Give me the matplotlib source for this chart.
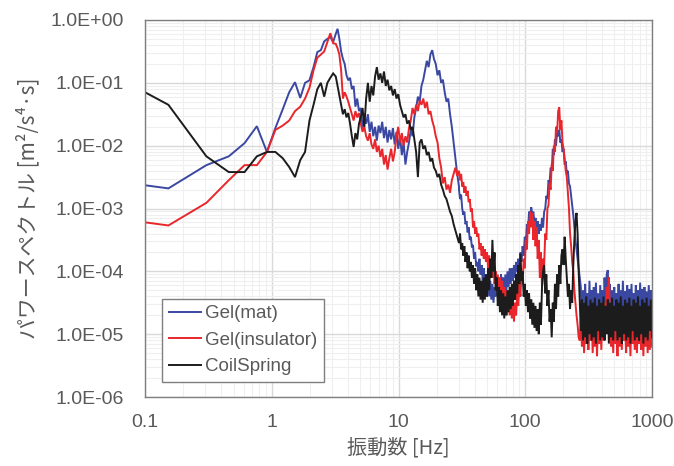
import numpy as np
import matplotlib
matplotlib.use("Agg")
import matplotlib.pyplot as plt
from matplotlib.ticker import FixedLocator, FixedFormatter, LogLocator, NullFormatter

# ---------------- data (log10 of power spectral density) ----------------
series_names = ["Gel(mat)", "Gel(insulator)", "CoilSpring"]

# low-frequency bins [Hz]
freq_low = [0.1, 0.153, 0.305, 0.458, 0.610, 0.763, 0.916, 1.068, 1.221, 1.373,
            1.526, 1.678, 1.831, 1.984, 2.136, 2.289, 2.441, 2.594, 2.747, 2.899, 3.052]
freq_mid_range = (3.2, 30.0)     # mid band, log-spaced bins
freq_high_range = (30.0, 1000.0)  # high band, log-spaced bins

blue_low = [-2.63, -2.68, -2.31, -2.17, -1.96, -1.69, -2.10, -1.72, -1.42, -1.15,
            -0.99, -1.24, -1.00, -0.96, -0.75, -0.51, -0.48, -0.34, -0.30, -0.27, -0.35]
blue_mid = [-0.22, -0.14, -0.30, -0.50, -0.62, -0.70, -0.88, -0.96, -0.92, -1.10,
            -1.05, -1.38, -1.25, -1.45, -1.40, -1.72, -1.55, -1.65, -1.50, -1.78,
            -1.62, -1.85, -1.70, -1.92, -1.68, -1.80, -1.62, -1.88, -1.70, -1.95,
            -1.75, -1.90, -1.72, -1.98, -1.78, -2.05, -1.85, -2.15, -1.95, -2.30,
            -2.10, -1.95, -1.75, -1.85, -1.55, -1.40, -1.22, -1.30, -1.05, -0.95,
            -0.80, -0.65, -0.75, -0.55, -0.48, -0.62, -0.70, -0.88, -0.80, -1.00,
            -0.95, -1.15, -1.30, -1.25, -1.50, -1.70, -1.95, -2.20, -2.45, -2.65]
blue_high = [-2.70, -2.85, -2.78, -3.00, -3.10, -3.05, -3.25, -3.20, -3.38, -3.30,
             -3.50, -3.45, -3.62, -3.58, -3.80, -3.70, -3.92, -3.85, -4.00, -3.80,
             -4.05, -3.90, -4.15, -3.95, -4.25, -4.05, -4.30, -4.10, -4.40, -4.15,
             -4.45, -4.20, -4.50, -4.25, -4.40, -4.15, -4.35, -4.10, -4.40, -4.05,
             -4.30, -4.10, -4.35, -4.05, -4.30, -4.00, -4.25, -3.95, -4.20, -3.95,
             -4.15, -3.90, -4.10, -3.85, -4.00, -3.80, -3.95, -3.70, -3.85, -3.60,
             -3.75, -3.45, -3.55, -3.25, -3.35, -3.05, -3.15, -2.98, -3.10, -3.05,
             -3.25, -3.15, -3.35, -3.20, -3.40, -3.25, -3.35, -3.15, -3.30, -3.05,
             -3.00, -2.80, -2.85, -2.55, -2.60, -2.35, -2.40, -2.05, -2.15, -1.90,
             -2.00, -1.78, -1.85, -1.75, -1.95, -1.90, -2.10, -2.05, -2.30, -2.25,
             -2.45, -2.40, -2.60, -2.65, -2.80, -2.95, -3.10, -3.30, -3.50, -3.65,
             -3.80, -3.95, -4.10,
             -4.25, -4.75, -4.30, -4.85, -4.20, -4.70, -4.35, -4.90, -4.15, -4.80,
             -4.30, -4.70, -4.25, -4.85, -4.18, -4.75, -4.35, -4.80, -4.22, -4.70,
             -4.30, -4.85, -4.10, -4.60, -4.05, -3.98, -4.50, -4.20, -4.80, -4.30,
             -4.75, -4.25, -4.90, -4.35, -4.70, -4.20, -4.85, -4.30, -4.75, -4.15,
             -4.80, -4.32, -4.70, -4.22, -4.85, -4.28, -4.75, -4.20, -4.80, -4.35,
             -4.70, -4.22, -4.90, -4.30, -4.75, -4.18, -4.80, -4.28, -4.70, -4.25,
             -4.85, -4.32, -4.75, -4.22, -4.80, -4.30, -4.60]

red_low = [-3.22, -3.27, -2.91, -2.55, -2.31, -2.31, -2.10, -1.75, -1.68, -1.60,
           -1.45, -1.38, -1.25, -1.08, -0.80, -0.60, -0.55, -0.50, -0.35, -0.21, -0.37]
red_mid = [-0.38, -0.45, -0.55, -0.80, -1.25, -1.15, -1.22, -1.30, -1.40, -1.50,
           -1.60, -1.45, -1.55, -1.48, -1.65, -1.78, -1.70, -1.85, -1.92, -1.80,
           -1.98, -2.05, -1.90, -2.10, -2.00, -2.18, -2.05, -2.30, -2.15, -2.38,
           -2.20, -2.05, -2.25, -2.10, -1.85, -1.70, -1.95, -1.80, -2.00, -1.85,
           -1.95, -1.72, -1.60, -1.40, -1.50, -1.35, -1.45, -1.28, -1.35, -1.25,
           -1.40, -1.30, -1.50, -1.45, -1.60, -1.70, -1.85, -1.95, -2.20, -2.35,
           -2.60, -2.50, -2.70, -2.62, -2.75, -2.55, -2.45, -2.35, -2.48, -2.40]
red_high = [-2.40, -2.55, -2.45, -2.65, -2.58, -2.75, -2.65, -2.80, -2.72, -2.90,
            -2.85, -3.05, -3.00, -3.30, -3.20, -3.40, -3.30, -3.45, -3.40, -3.65,
            -3.55, -3.75, -3.60, -3.80, -3.65, -3.85, -3.70, -3.95, -3.75, -4.00,
            -3.85, -4.10, -3.90, -4.20, -4.00, -4.30, -4.05, -4.35, -4.10, -4.45,
            -4.15, -4.50, -4.25, -4.55, -4.30, -4.65, -4.35, -4.70, -4.40, -4.75,
            -4.45, -4.80, -4.50, -4.70, -4.35, -4.55, -4.20, -4.40, -4.00, -4.20,
            -3.80, -3.95, -3.50, -3.65, -3.20, -3.40, -3.05, -3.30, -3.07, -3.50,
            -3.20, -3.60, -3.30, -3.80, -3.50, -4.10, -3.70, -4.25, -3.80, -3.90,
            -3.40, -3.50, -3.00, -2.95, -2.60, -2.70, -2.30, -2.40, -2.00, -2.10,
            -1.70, -1.80, -1.45, -1.39, -1.75, -1.60, -1.95, -2.05, -2.20, -2.40,
            -2.50, -2.75, -3.00, -3.40, -3.60, -3.85, -4.00, -4.30, -4.50, -4.70,
            -4.85, -5.05, -5.10,
            -4.75, -5.20, -4.70, -5.30, -4.80, -5.15, -4.65, -5.25, -4.85, -5.10,
            -4.70, -5.30, -4.75, -5.20, -4.65, -5.35, -4.80, -5.15, -4.70, -5.25,
            -4.60, -5.10, -4.50, -4.95, -4.25, -4.50, -4.09, -4.70, -5.20, -4.75,
            -5.30, -4.70, -5.15, -4.80, -5.35, -4.65, -5.20, -4.75, -5.25, -4.70,
            -5.10, -4.80, -5.30, -4.65, -5.20, -4.75, -5.35, -4.70, -5.15, -4.80,
            -5.25, -4.70, -5.30, -4.75, -5.15, -4.65, -5.25, -4.80, -5.35, -4.70,
            -5.20, -4.75, -5.30, -4.70, -5.25, -4.80, -5.20]

black_low = [-1.15, -1.35, -2.17, -2.42, -2.42, -2.17, -2.10, -2.10, -2.20, -2.34,
             -2.50, -2.23, -2.10, -1.60, -1.35, -1.10, -1.00, -1.22, -1.00, -0.92, -0.85]
black_mid = [-0.90, -1.05, -1.20, -1.35, -1.50, -1.42, -1.55, -1.48, -1.65, -1.85,
             -2.02, -1.80, -1.90, -1.65, -1.55, -1.40, -1.70, -1.25, -1.00, -1.30,
             -1.05, -1.20, -0.90, -0.75, -0.95, -0.85, -1.00, -0.82, -1.05, -0.95,
             -1.12, -1.05, -1.20, -1.10, -1.25, -1.18, -1.35, -1.45, -1.55, -1.50,
             -1.65, -1.60, -1.75, -1.70, -1.90, -2.10, -2.50, -1.95, -1.90, -2.05,
             -2.00, -2.15, -2.10, -2.25, -2.20, -2.35, -2.40, -2.50, -2.45, -2.62,
             -2.70, -2.80, -2.85, -2.95, -3.05, -3.12, -3.25, -3.35, -3.45, -3.55]
black_high = [-3.55, -3.40, -3.65, -3.55, -3.75, -3.60, -3.85, -3.70, -3.95, -3.75,
              -4.00, -3.85, -4.10, -3.90, -4.20, -3.95, -4.30, -4.05, -4.40, -4.10,
              -4.45, -4.15, -4.50, -4.10, -4.45, -4.05, -4.40, -3.95, -4.30, -3.80,
              -4.10, -3.50, -4.00, -3.70, -4.30, -4.10, -4.55, -4.25, -4.65, -4.30,
              -4.70, -4.35, -4.75, -4.40, -4.70, -4.30, -4.65, -4.25, -4.60, -4.20,
              -4.55, -4.15, -4.45, -4.05, -4.35, -3.90, -4.20, -3.72, -4.15, -4.00,
              -4.40, -4.20, -4.55, -4.30, -4.65, -4.35, -4.75, -4.45, -4.85, -4.50,
              -4.90, -4.55, -4.95, -4.60, -5.00, -4.50, -4.85, -4.25, -4.00, -3.90,
              -4.35, -4.05, -4.55, -4.30, -4.80, -4.60, -5.05, -4.50, -4.80, -4.20,
              -4.60, -4.05, -4.40, -3.90, -4.20, -3.75, -3.65, -3.90, -3.45, -3.80,
              -4.10, -4.40, -4.20, -4.60, -4.30, -4.50, -3.90, -3.50, -3.20, -3.07,
              -3.40, -4.00, -4.50,
              -4.95, -4.45, -5.10, -4.50, -5.05, -4.40, -5.15, -4.55, -5.00, -4.45,
              -5.10, -4.50, -5.05, -4.42, -5.15, -4.55, -4.95, -4.45, -5.10, -4.50,
              -5.05, -4.40, -5.10, -4.55, -5.00, -4.45, -5.15, -4.50, -5.05, -4.42,
              -5.10, -4.55, -4.95, -4.45, -5.10, -4.50, -5.05, -4.40, -5.15, -4.55,
              -5.00, -4.45, -5.10, -4.50, -5.05, -4.42, -5.15, -4.55, -4.95, -4.45,
              -5.10, -4.50, -5.05, -4.40, -5.10, -4.55, -5.00, -4.45, -5.15, -4.50,
              -5.05, -4.42, -5.10, -4.55, -4.95, -4.45, -5.05]

x_ticks = [0.1, 1, 10, 100, 1000]
x_tick_labels = ["0.1", "1", "10", "100", "1000"]
y_ticks = [1e-6, 1e-5, 1e-4, 1e-3, 1e-2, 1e-1, 1e0]
y_tick_labels = ["1.0E-06", "1.0E-05", "1.0E-04", "1.0E-03", "1.0E-02", "1.0E-01", "1.0E+00"]

colors = ["#3a48a2", "#e8262b", "#1c1c1c"]


def build(low, mid, high):
    f = np.concatenate([np.array(freq_low),
                        np.geomspace(*freq_mid_range, len(mid)),
                        np.geomspace(*freq_high_range, len(high))])
    p = 10.0 ** np.array(low + mid + high)
    return f, p


data = [build(blue_low, blue_mid, blue_high),
        build(red_low, red_mid, red_high),
        build(black_low, black_mid, black_high)]

# ---------------- figure ----------------
W, H = 674, 466
fig = plt.figure(figsize=(W / 100, H / 100), dpi=100)
ax = fig.add_axes([145 / W, 1 - 397 / H, 507 / W, 377 / H])

for (f, p), c, name in zip(data, colors, series_names):
    ax.plot(f, p, color=c, lw=1.4, label=name, solid_joinstyle="miter")

ax.set_xscale("log")
ax.set_yscale("log")
ax.set_xlim(0.1, 1000)
ax.set_ylim(1e-6, 1)

tick_family = ["Liberation Sans", "DejaVu Sans"]
ax.xaxis.set_major_locator(FixedLocator(x_ticks))
ax.xaxis.set_major_formatter(FixedFormatter(x_tick_labels))
ax.yaxis.set_major_locator(FixedLocator(y_ticks))
ax.yaxis.set_major_formatter(FixedFormatter(y_tick_labels))
ax.xaxis.set_minor_locator(LogLocator(base=10, subs=np.arange(2, 10)))
ax.yaxis.set_minor_locator(LogLocator(base=10, subs=np.arange(2, 10)))
ax.xaxis.set_minor_formatter(NullFormatter())
ax.yaxis.set_minor_formatter(NullFormatter())
for lab in ax.get_xticklabels() + ax.get_yticklabels():
    lab.set_fontfamily(tick_family)
    lab.set_fontsize(14)
    lab.set_color("#595959")
ax.tick_params(which="both", length=0)
ax.tick_params(axis="x", pad=12)
ax.tick_params(axis="y", pad=15)

ax.grid(which="major", color="#d9d9d9", lw=1.0)
ax.grid(which="minor", color="#efefef", lw=0.8)
ax.set_axisbelow(True)
for s in ax.spines.values():
    s.set_color("#7f7f7f")
    s.set_linewidth(1.0)

label_font = ["Noto Sans CJK JP", "DejaVu Sans"]
ax.set_xlabel("振動数 [Hz]", family=label_font, size=14.5, color="#595959", labelpad=5)
ax.set_ylabel("パワースペクトル [m²/s⁴·s]", family=label_font, size=15, color="#595959", labelpad=8)

leg = ax.legend(loc="lower left", bbox_to_anchor=(0.034, 0.04), fancybox=False,
                framealpha=1, edgecolor="#7f7f7f", handlelength=1.7, handletextpad=0.25,
                labelspacing=0.5, borderpad=0.35, borderaxespad=0,
                prop=dict(family=tick_family, size=13.5))
for t in leg.get_texts():
    t.set_color("#595959")
leg.get_frame().set_linewidth(1.0)

fig.savefig("out.png", dpi=100)
